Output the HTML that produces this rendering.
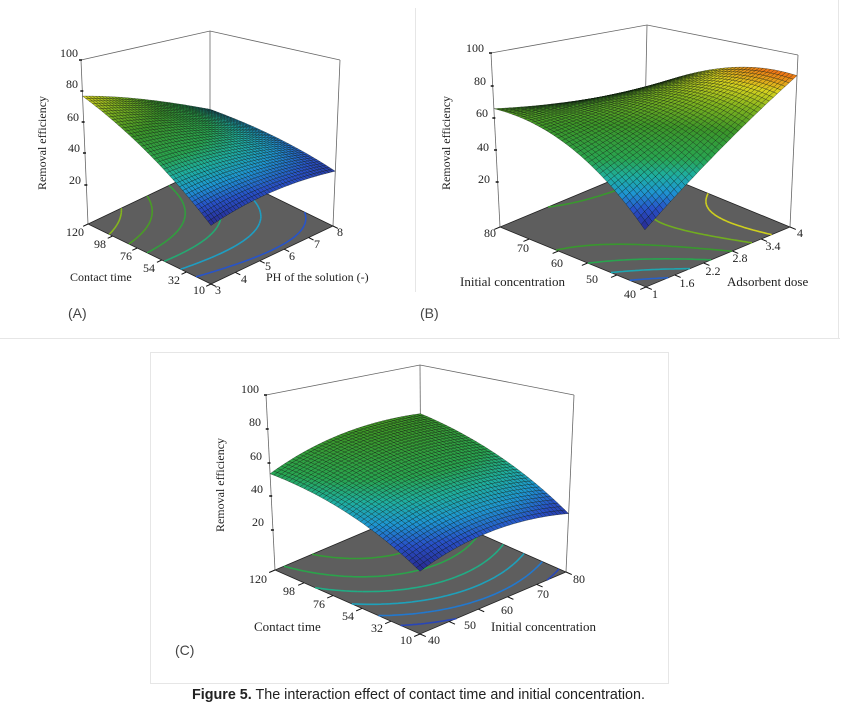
<!DOCTYPE html>
<html><head><meta charset="utf-8">
<style>
html,body{margin:0;padding:0;background:#fff;}
svg{display:block;}
.s{font-family:"Liberation Serif",serif;font-size:12px;fill:#222;}
.t{font-size:13px;}
.p{font-family:"Liberation Sans",sans-serif;font-size:14px;fill:#444;}
</style></head>
<body>
<svg id="sv" width="864" height="712" viewBox="0 0 864 712" xmlns="http://www.w3.org/2000/svg">
<rect width="864" height="712" fill="#fff"/>
<g stroke="#e6e6e6" stroke-width="1" fill="none">
<line x1="0" y1="338.5" x2="840" y2="338.5"/>
<line x1="415.5" y1="8" x2="415.5" y2="292"/>
<line x1="838.5" y1="0" x2="838.5" y2="338"/>
<rect x="150.5" y="352.5" width="518" height="331"/>
</g>
<g id="gA"></g><g id="gB"></g><g id="gC"></g>

<!-- Panel A text -->
<g class="s">
<text x="78" y="57" text-anchor="end">100</text>
<text x="78" y="88" text-anchor="end">80</text>
<text x="79" y="121" text-anchor="end">60</text>
<text x="80" y="152" text-anchor="end">40</text>
<text x="81" y="184" text-anchor="end">20</text>
<text transform="translate(46,143) rotate(-90)" text-anchor="middle">Removal efficiency</text>
<text x="75" y="236" text-anchor="middle">120</text>
<text x="100" y="248" text-anchor="middle">98</text>
<text x="126" y="260" text-anchor="middle">76</text>
<text x="149" y="272" text-anchor="middle">54</text>
<text x="174" y="284" text-anchor="middle">32</text>
<text x="199" y="294" text-anchor="middle">10</text>
<text x="70" y="281">Contact time</text>
<text x="218" y="294" text-anchor="middle">3</text>
<text x="244" y="283" text-anchor="middle">4</text>
<text x="268" y="270" text-anchor="middle">5</text>
<text x="292" y="260" text-anchor="middle">6</text>
<text x="317" y="248" text-anchor="middle">7</text>
<text x="340" y="236" text-anchor="middle">8</text>
<text x="266" y="281">PH of the solution (-)</text>
</g>
<text class="p" x="68" y="318">(A)</text>

<!-- Panel B text -->
<g class="s">
<text x="484" y="52" text-anchor="end">100</text>
<text x="486" y="85" text-anchor="end">80</text>
<text x="488" y="117" text-anchor="end">60</text>
<text x="489" y="151" text-anchor="end">40</text>
<text x="490" y="183" text-anchor="end">20</text>
<text transform="translate(450,143) rotate(-90)" text-anchor="middle">Removal efficiency</text>
<text x="490" y="237" text-anchor="middle">80</text>
<text x="523" y="252" text-anchor="middle">70</text>
<text x="557" y="267" text-anchor="middle">60</text>
<text x="592" y="283" text-anchor="middle">50</text>
<text x="630" y="298" text-anchor="middle">40</text>
<text class="t" x="460" y="286">Initial concentration</text>
<text x="655" y="298" text-anchor="middle">1</text>
<text x="687" y="287" text-anchor="middle">1.6</text>
<text x="713" y="275" text-anchor="middle">2.2</text>
<text x="740" y="262" text-anchor="middle">2.8</text>
<text x="773" y="250" text-anchor="middle">3.4</text>
<text x="800" y="237" text-anchor="middle">4</text>
<text class="t" x="727" y="286">Adsorbent dose</text>
</g>
<text class="p" x="420" y="318">(B)</text>

<!-- Panel C text -->
<g class="s">
<text x="259" y="393" text-anchor="end">100</text>
<text x="261" y="426" text-anchor="end">80</text>
<text x="262" y="460" text-anchor="end">60</text>
<text x="263" y="493" text-anchor="end">40</text>
<text x="264" y="526" text-anchor="end">20</text>
<text transform="translate(224,485) rotate(-90)" text-anchor="middle">Removal efficiency</text>
<text x="258" y="583" text-anchor="middle">120</text>
<text x="289" y="595" text-anchor="middle">98</text>
<text x="319" y="608" text-anchor="middle">76</text>
<text x="348" y="620" text-anchor="middle">54</text>
<text x="377" y="632" text-anchor="middle">32</text>
<text x="406" y="644" text-anchor="middle">10</text>
<text class="t" x="254" y="631">Contact time</text>
<text x="434" y="644" text-anchor="middle">40</text>
<text x="470" y="629" text-anchor="middle">50</text>
<text x="507" y="614" text-anchor="middle">60</text>
<text x="543" y="598" text-anchor="middle">70</text>
<text x="579" y="583" text-anchor="middle">80</text>
<text class="t" x="491" y="631">Initial concentration</text>
</g>
<text class="p" x="175" y="655">(C)</text>

<text x="192" y="699" textLength="453" lengthAdjust="spacingAndGlyphs" style="font-family:'Liberation Sans',sans-serif;font-size:15px;fill:#222"><tspan font-weight="bold">Figure 5.</tspan> The interaction effect of contact time and initial concentration.</text>
</svg>
<script>
(function(){
var NS="http://www.w3.org/2000/svg";
var stops=[[0,[40,40,140]],[0.12,[40,80,200]],[0.22,[30,150,210]],[0.32,[30,175,160]],[0.42,[40,165,80]],[0.6,[60,150,40]],[0.75,[130,180,30]],[0.87,[215,210,30]],[1,[240,110,20]]];
function cmap(t){t=Math.max(0,Math.min(1,t));for(var i=1;i<stops.length;i++){if(t<=stops[i][0]){var a=stops[i-1],b=stops[i],k=(t-a[0])/(b[0]-a[0]);var c=[0,1,2].map(function(j){return Math.round(a[1][j]+(b[1][j]-a[1][j])*k);});return "rgb("+c.join(",")+")";}}return "rgb(240,110,20)";}
function el(g,n,at){var e=document.createElementNS(NS,n);for(var k in at)e.setAttribute(k,at[k]);g.appendChild(e);return e;}
function bil(c,u,v){return [c.F[0]*(1-u)*(1-v)+c.L[0]*u*(1-v)+c.R[0]*(1-u)*v+c.B[0]*u*v, c.F[1]*(1-u)*(1-v)+c.L[1]*u*(1-v)+c.R[1]*(1-u)*v+c.B[1]*u*v];}
function draw(id,P){
 var g=document.getElementById(id);
 function f(u,v){var z=P.F*(1-u)*(1-v)+P.Lv*u*(1-v)+P.Rv*(1-u)*v+P.Bv*u*v+P.cu*u*(1-u)+P.cv*v*(1-v);return Math.max(0,Math.min(100,z));}
 function pr(u,v,w){var a=bil(P.fl,u,v),b=bil(P.tp,u,v);return [a[0]+(b[0]-a[0])*w,a[1]+(b[1]-a[1])*w];}
 var fmin=1e9,fmax=-1e9,N=40,i,j;
 for(i=0;i<=N;i++)for(j=0;j<=N;j++){var z=f(i/N,j/N);fmin=Math.min(fmin,z);fmax=Math.max(fmax,z);}
 function col(z){return cmap((z-fmin)/(fmax-fmin)*P.tmax);}
 var fl=P.fl,tp=P.tp;
 ["L","B","R"].forEach(function(k){var a=fl[k],b=tp[k];el(g,"line",{x1:a[0],y1:a[1],x2:b[0],y2:b[1],stroke:"#666","stroke-width":0.8});});
 el(g,"polyline",{points:[tp.L,tp.B,tp.R].map(function(p){return p.join(",");}).join(" "),stroke:"#666","stroke-width":0.8,fill:"none"});
 el(g,"polygon",{points:[fl.L,fl.F,fl.R,fl.B].map(function(p){return p.join(",");}).join(" "),fill:"#5e5e5e",stroke:"#222","stroke-width":0.8});
 P.zt.forEach(function(y){var x=fl.L[0]+(tp.L[0]-fl.L[0])*(fl.L[1]-y)/(fl.L[1]-tp.L[1]);el(g,"line",{x1:x-2,y1:y,x2:x+1,y2:y,stroke:"#111","stroke-width":1.5});});
 for(i=0;i<=5;i++){var p=bil(fl,i/5,0),q=bil(fl,i/5,-0.04);el(g,"line",{x1:p[0],y1:p[1],x2:q[0],y2:q[1],stroke:"#111","stroke-width":1});
  p=bil(fl,0,i/5);q=bil(fl,-0.04,i/5);el(g,"line",{x1:p[0],y1:p[1],x2:q[0],y2:q[1],stroke:"#111","stroke-width":1});}
 var M=60,vals=[];for(i=0;i<=M;i++){vals[i]=[];for(j=0;j<=M;j++)vals[i][j]=f(i/M,j/M);}
 for(var k=1;k<=6;k++){var L=fmin+(fmax-fmin)*k/7,c=col(L),d="";
  for(i=0;i<M;i++)for(j=0;j<M;j++){var pts=[];var cs=[[i,j],[i+1,j],[i+1,j+1],[i,j+1]];
   for(var e=0;e<4;e++){var a=cs[e],b=cs[(e+1)%4],va=vals[a[0]][a[1]],vb=vals[b[0]][b[1]];
    if((va-L)*(vb-L)<0){var t=(L-va)/(vb-va);pts.push(pr((a[0]+(b[0]-a[0])*t)/M,(a[1]+(b[1]-a[1])*t)/M,0));}}
   if(pts.length>=2)d+="M"+pts[0][0].toFixed(1)+" "+pts[0][1].toFixed(1)+"L"+pts[1][0].toFixed(1)+" "+pts[1][1].toFixed(1);}
  el(g,"path",{d:d,stroke:c,"stroke-width":1.6,fill:"none"});}
 var q=[];for(i=0;i<N;i++)for(j=0;j<N;j++)q.push([i,j]);
 q.sort(function(a,b){return (b[0]+b[1])-(a[0]+a[1]);});
 q.forEach(function(a){var u0=a[0]/N,v0=a[1]/N,u1=(a[0]+1)/N,v1=(a[1]+1)/N;
  var ps=[[u0,v0],[u1,v0],[u1,v1],[u0,v1]].map(function(s){return pr(s[0],s[1],f(s[0],s[1])/100);});
  var zc=f((u0+u1)/2,(v0+v1)/2);
  el(g,"polygon",{points:ps.map(function(p){return p[0].toFixed(1)+","+p[1].toFixed(1);}).join(" "),fill:col(zc),stroke:"rgba(10,20,10,0.65)","stroke-width":0.45});});
}
draw("gA",{fl:{L:[88,224],F:[211,284],R:[333,226],B:[210,166]},tp:{L:[81,60],F:[211,89],R:[340,60],B:[210,31]},
 Lv:78,F:30,Rv:33,Bv:42,cu:10,cv:15,tmax:0.88,zt:[60,91,122,153,185]});
draw("gB",{fl:{L:[500,227],F:[646,287],R:[790,227],B:[644,167]},tp:{L:[491,53],F:[642,83],R:[798,55],B:[647,25]},
 Lv:68,F:28,Rv:88,Bv:55,cu:42,cv:-5,tmax:1.0,zt:[53,86,118,150,182]});
draw("gC",{fl:{L:[275,570],F:[420,634],R:[566,572],B:[421,508]},tp:{L:[266,395],F:[420,425],R:[574,395],B:[420,365]},
 Lv:55,F:30,Rv:33,Bv:66,cu:18,cv:25,tmax:0.62,zt:[395,429,463,496,530]});
})();
</script>
</body></html>
